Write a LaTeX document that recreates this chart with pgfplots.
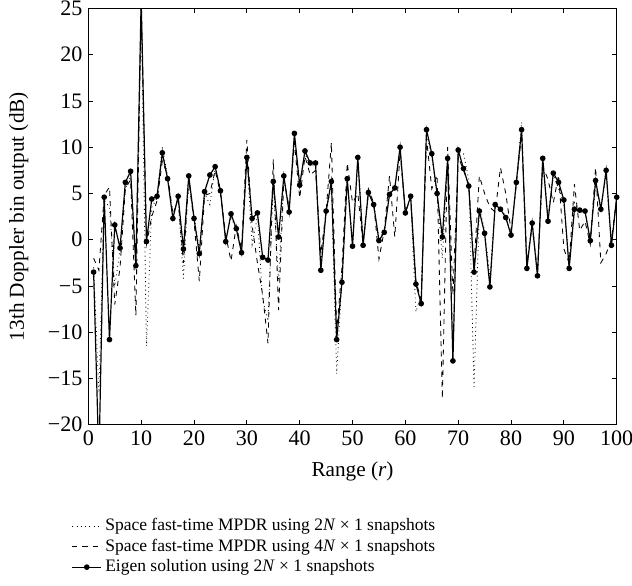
\documentclass[border=0pt]{standalone}
\usepackage{fontspec}
\setmainfont{Liberation Serif}
\usepackage{pgfplots}
\pgfplotsset{compat=1.18}
\usepackage{pgfplotstable}

\pgfplotstableread{
r S D T
1 -3.5 -2 -3
2 -24 -3.3 -16.5
3 4.6 4.8 4.3
4 -10.8 5.7 3.5
5 1.6 -7 -5
6 -0.9 -3 -1.2
7 6.2 5.5 5.5
8 7.4 6.5 7.0
9 -2.8 -8.2 -3.2
10 26 25.5 25.5
11 -0.2 -0.5 -11.5
12 4.4 2.5 3.5
13 4.7 4.2 4.5
14 9.4 8.5 10.1
15 6.6 7.0 6.8
16 2.3 2.8 2.5
17 4.7 4.2 4.5
18 -1.0 -2.5 -4.2
19 6.9 6.5 6.8
20 2.3 2.0 2.5
21 -1.5 -4.5 -1.0
22 5.2 4.8 5.0
23 7.0 5.0 3.8
24 7.9 7.5 7.8
25 5.3 5.0 5.5
26 -0.2 0.5 0.0
27 2.8 -2.3 2.5
28 1.2 1.5 1.0
29 -1.4 -1.0 -1.2
30 8.9 10.8 9.0
31 2.3 1.5 -0.5
32 2.9 -2.5 2.5
33 -1.9 -6 -6.5
34 -2.2 -11.2 -8.8
35 6.3 8.7 6.0
36 0.3 -7.6 -4.5
37 6.9 6.5 6.5
38 3.0 3.5 3.2
39 11.5 10.5 11.0
40 5.9 4.5 6.0
41 9.6 9.0 9.3
42 8.3 7.0 8.0
43 8.3 7.5 8.0
44 -3.3 -1.5 -2.5
45 3.1 3.0 3.0
46 6.3 10.5 6.0
47 -10.8 -10 -14.5
48 -4.6 -3 -4.0
49 6.6 8.3 6.5
50 -0.7 4.0 -0.5
51 8.9 5.0 8.5
52 -0.6 -0.5 -0.3
53 5.1 5.5 5.0
54 3.8 4.0 4.0
55 -0.1 -2.1 0
56 0.8 1.0 1.0
57 4.9 6.9 5.0
58 5.6 0.3 5.5
59 10.0 9.5 9.8
60 2.9 3.0 3.0
61 4.7 4.5 4.5
62 -4.8 -4.5 -7.8
63 -6.9 -6.5 -6.0
64 11.9 11.0 11.5
65 9.3 5.5 9.0
66 5.0 7.0 5.0
67 0.3 -17.2 -2.0
68 8.8 10.0 8.5
69 -13.1 -6 -12
70 9.7 9.0 9.5
71 7.7 7.5 9.3
72 5.8 6.0 6.5
73 -3.5 -3 -15.9
74 3.1 6.9 3.5
75 0.7 5.0 1.0
76 -5.1 3.5 -4.0
77 3.8 3.0 3.5
78 3.3 7.8 3.5
79 2.4 5.0 2.5
80 0.5 1.0 0.8
81 6.2 6.0 6.0
82 11.9 11.5 12.7
83 -3.1 -2.5 -2.8
84 1.8 1.5 2.0
85 -3.9 -3.5 -3.5
86 8.8 8.0 8.5
87 2.0 6.5 2.5
88 7.2 4.0 7.0
89 6.2 7.0 5.5
90 4.3 -1.0 4.0
91 -3.1 -2.5 -2.8
92 3.3 6.0 4.0
93 3.2 1.0 3.0
94 3.1 2.0 3.0
95 -0.1 -0.5 0
96 6.4 7.8 6.0
97 3.3 -2.5 3.5
98 7.5 -1.5 7.0
99 -0.6 0 -0.5
100 4.6 4.5 4.5
}\data

\begin{document}
\begin{tikzpicture}
\begin{axis}[
  scale only axis,
  width=311pt, height=245pt,
  xmin=0, xmax=100, ymin=-20, ymax=25,
  xtick={0,10,...,100},
  xticklabels={0,10,20,30,40,50,60,70,80,90,100},
  ytick={-20,-15,...,25},
  yticklabels={−20,−15,−10,−5,0,5,10,15,20,25},
  tick label style={font=\fontsize{13}{15}\selectfont},
  tick align=inside,
  major tick length=2.5pt,
  axis line style={line width=0.6pt},
  tick style={line width=0.5pt, black},
  xlabel={Range (\textit{r})},
  ylabel={13th Doppler bin output (dB)},
  every axis y label/.style={at={(rel axis cs:0,0.5)}, xshift=-41pt, rotate=90, anchor=center,
    font=\fontsize{12.5}{15}\selectfont},
  every axis x label/.style={at={(rel axis cs:0.5,0)}, yshift=-27.6pt, anchor=center,
    font=\fontsize{12.5}{15}\selectfont},
  legend style={at={(rel axis cs:0,0)}, anchor=north west, xshift=-13pt, yshift=-51pt,
    draw=none, fill=none, row sep=-0.6pt, font=\fontsize{10.3}{12}\selectfont},
  legend cell align=left,
]
\addplot[black, line width=0.5pt, dotted, mark=none] table[x=r,y=T]{\data};
\addlegendentry{Space fast-time MPDR using 2\textit{N} × 1 snapshots}
\addplot[black, line width=0.5pt, dashed, mark=none] table[x=r,y=D]{\data};
\addlegendentry{Space fast-time MPDR using 4\textit{N} × 1 snapshots}
\addplot[black, line width=0.7pt, mark=*, mark size=1.3pt] table[x=r,y=S]{\data};
\addlegendentry{Eigen solution using 2\textit{N} × 1 snapshots}
\coordinate (bl) at (rel axis cs:0,0);
\end{axis}
\pgfresetboundingbox
\path (bl) ++(-52pt,-94.5pt) rectangle ++(372pt,344.5pt);
\end{tikzpicture}
\end{document}
